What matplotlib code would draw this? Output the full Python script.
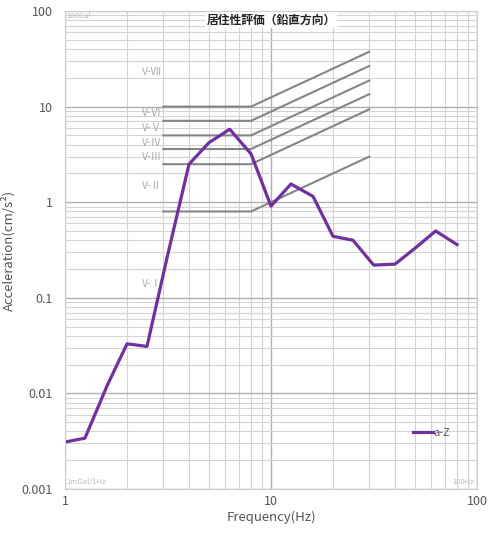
import numpy as np
import matplotlib.pyplot as plt
from matplotlib.ticker import LogLocator, NullFormatter, FixedLocator, FixedFormatter

plt.rcParams['font.family'] = ['Noto Sans CJK JP', 'DejaVu Sans']

# measured response (1/3 octave bands)
freq = [1, 1.25, 1.6, 2, 2.5, 3.15, 4, 5, 6.3, 8, 10, 12.5, 16, 20, 25, 31.5, 40, 50, 63, 80]
acc = [0.0031, 0.0034, 0.012, 0.033, 0.031, 0.28, 2.5, 4.2, 5.8, 3.2,
       0.91, 1.55, 1.15, 0.44, 0.40, 0.22, 0.225, 0.33, 0.50, 0.36]

# evaluation curves: flat from 3 to 8 Hz, rising to 30 Hz
curve_levels = [0.8, 2.5, 3.6, 5.0, 7.1, 10.0]
curve_freq = [3, 8, 30]

# curve labels
label_names = ["V-Ⅰ", "V-Ⅱ", "V-Ⅲ", "V-Ⅳ", "V-Ⅴ", "V-Ⅵ", "V-Ⅶ"]
label_y = [0.14, 1.47, 2.98, 4.17, 6.0, 8.6, 23]

fig = plt.figure(figsize=(5, 5.35), dpi=100)
ax = fig.add_axes([0.13, 0.086, 0.824, 0.8934])
ax.set_xscale('log')
ax.set_yscale('log')
ax.set_xlim(1, 100)
ax.set_ylim(0.001, 100)

ax.grid(True, which='minor', color='#d4d4d4', lw=0.8)
ax.grid(True, which='major', color='#b0b0b0', lw=1.0)
ax.xaxis.set_minor_locator(LogLocator(base=10, subs=np.arange(2, 10)))
ax.yaxis.set_minor_locator(LogLocator(base=10, subs=np.arange(2, 10)))
ax.xaxis.set_minor_formatter(NullFormatter())
ax.yaxis.set_minor_formatter(NullFormatter())
ax.set_axisbelow(True)

ax.xaxis.set_major_locator(FixedLocator([1, 10, 100]))
ax.xaxis.set_major_formatter(FixedFormatter(["1", "10", "100"]))
ax.yaxis.set_major_locator(FixedLocator([0.001, 0.01, 0.1, 1, 10, 100]))
ax.yaxis.set_major_formatter(FixedFormatter(["0.001", "0.01", "0.1", "1", "10", "100"]))
ax.tick_params(which='both', length=0, colors='#555555', labelsize=9)
ax.tick_params(axis='x', pad=4)
ax.tick_params(axis='y', pad=9)

for s in ax.spines.values():
    s.set_color('#cccccc')

for lvl in curve_levels:
    ys = [lvl, lvl, lvl * curve_freq[2] / curve_freq[1]]
    ax.plot(curve_freq, ys, color='#858585', lw=1.5)

for name, y in zip(label_names, label_y):
    ax.text(2.97, y, name, color='#aaaaaa', fontsize=7.5, ha='right', va='center')

ax.plot(freq, acc, color='#7030a0', lw=2.3, label='a-Z')

ax.text(1.02, 88, "100Gal", color='#bbbbbb', fontsize=5.5, va='center')
ax.text(1.02, 0.00117, "1mGal/1Hz", color='#bbbbbb', fontsize=5.5, va='center')
ax.text(97, 0.00117, "100Hz", color='#bbbbbb', fontsize=5.5, va='center', ha='right')

ax.text(0.5, 0.981, "居住性評価（鉛直方向）", transform=ax.transAxes, ha='center', va='center',
        fontsize=8.5, fontweight='bold', color='#222222',
        bbox=dict(facecolor='white', edgecolor='none', pad=1))

leg = ax.legend(loc='lower right', bbox_to_anchor=(0.96, 0.085), frameon=False,
                fontsize=8, handlelength=1.8, handletextpad=0.1)
for t in leg.get_texts():
    t.set_color('#555555')

ax.set_xlabel("Frequency(Hz)", color='#555555', fontsize=9.5, labelpad=2)
ax.set_ylabel("Acceleration(cm/s²)", color='#555555', fontsize=9.5, labelpad=4)

fig.savefig("out.png", dpi=100)
